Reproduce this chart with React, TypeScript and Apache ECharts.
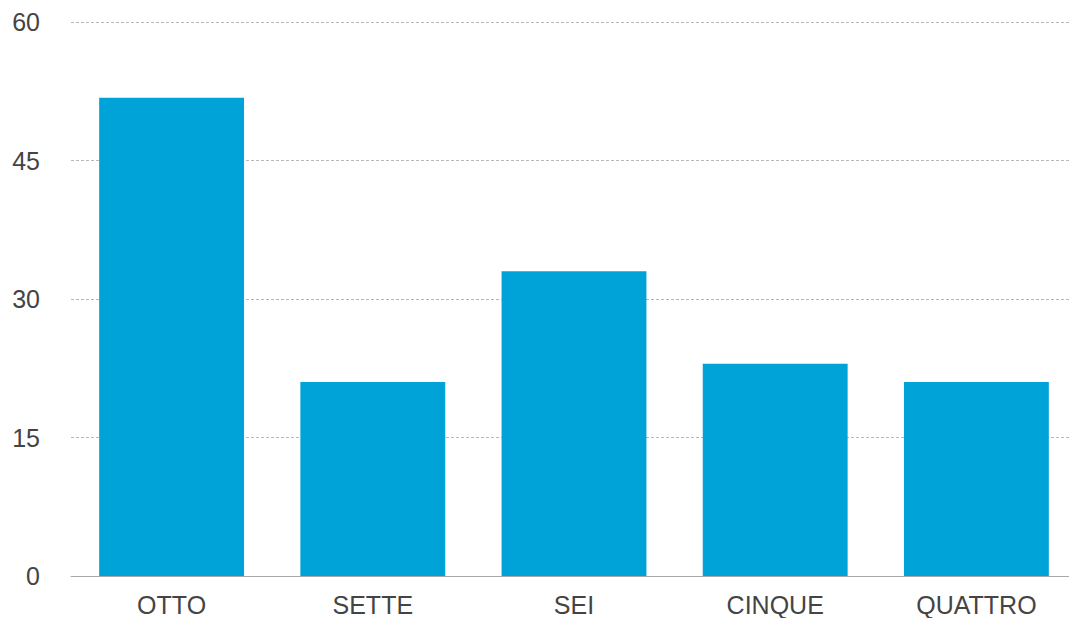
import React, { useEffect, useRef } from "react";
import * as echarts from "echarts";

const categories = ["OTTO", "SETTE", "SEI", "CINQUE", "QUATTRO"];
const values = [51.8, 21, 33, 23, 21];
const yTicks = [0, 15, 30, 45, 60];

export default function App() {
  const ref = useRef<HTMLDivElement>(null);
  useEffect(() => {
    if (!ref.current) return;
    const chart = echarts.init(ref.current, undefined, { renderer: "svg" });
    const font = "'Liberation Sans', Arial, Helvetica, sans-serif";
    chart.setOption({
      animation: false,
      grid: { left: 71, top: 22, bottom: 42, right: 3, outerBoundsMode: "none" },
      xAxis: {
        type: "category",
        data: categories,
        axisTick: { show: false },
        axisLine: { show: true, lineStyle: { color: "#aaaaaa", width: 1 } },
        axisLabel: { color: "#444444", fontSize: 25, fontFamily: font, margin: 16 },
      },
      yAxis: {
        type: "value",
        min: yTicks[0],
        max: yTicks[yTicks.length - 1],
        interval: 15,
        axisLine: { show: false },
        axisTick: { show: false },
        axisLabel: { color: "#444444", fontSize: 25, fontFamily: font, margin: 31 },
        splitLine: { show: true, lineStyle: { color: "#b8b8b8", type: [3, 2], width: 1 } },
      },
      series: [
        {
          type: "bar",
          data: values,
          barCategoryGap: "28%",
          itemStyle: { color: "#00A3D8" },
        },
      ],
    });
    return () => chart.dispose();
  }, []);
  return (
    <div style={{ position: "fixed", left: 0, top: 0, width: 1069, height: 618, overflow: "hidden", background: "#fff" }}>
      <div ref={ref} style={{ width: 1080, height: 618 }} />
    </div>
  );
}
